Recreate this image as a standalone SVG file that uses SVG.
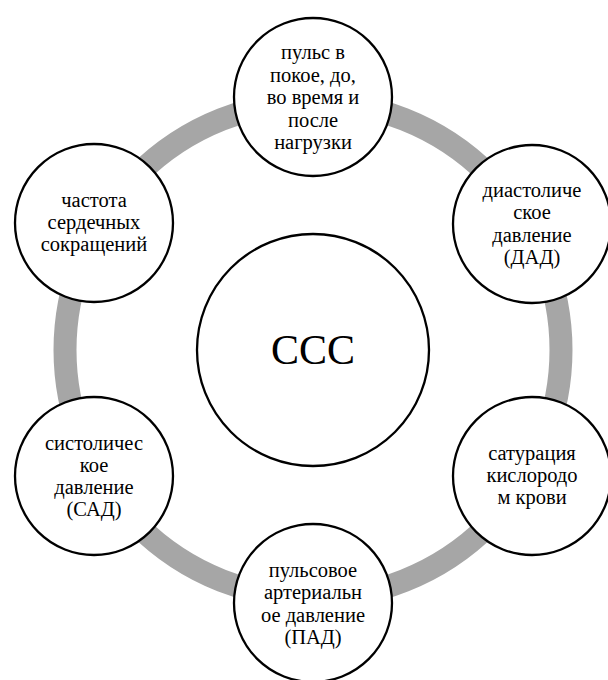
<svg xmlns="http://www.w3.org/2000/svg" width="608" height="680" viewBox="0 0 608 680">
<style>
.node{fill:#fff;stroke:#000;stroke-width:2.3}
.t{font-size:20.5px;fill:#000;text-anchor:middle}
.big{font-size:42px;fill:#000;text-anchor:middle}
</style>
<rect width="608" height="680" fill="#fff"/>
<g id="connectors">
<circle cx="313" cy="350" r="248" fill="none" stroke="#a6a6a6" stroke-width="23"/>
</g>
<g font-family="Liberation Serif, DejaVu Serif, serif">
<g id="center">
<circle class="node" cx="313" cy="350" r="116"/>
<text class="big" x="313" y="364">ССС</text>
</g>
<g id="n-top">
<circle class="node" cx="313" cy="97" r="79"/>
<text class="t" x="313" y="59">пульс в</text>
<text class="t" x="313" y="82">покое, до,</text>
<text class="t" x="313" y="104">во время и</text>
<text class="t" x="313" y="127">после</text>
<text class="t" x="313" y="149">нагрузки</text>
</g>
<g id="n-upper-right">
<circle class="node" cx="532" cy="224" r="79"/>
<text class="t" x="532" y="197">диастоличе</text>
<text class="t" x="532" y="219">ское</text>
<text class="t" x="532" y="242">давление</text>
<text class="t" x="532" y="264">(ДАД)</text>
</g>
<g id="n-lower-right">
<circle class="node" cx="532" cy="476" r="79"/>
<text class="t" x="532" y="460">сатурация</text>
<text class="t" x="532" y="482">кислородо</text>
<text class="t" x="532" y="504">м крови</text>
</g>
<g id="n-bottom">
<circle class="node" cx="313" cy="603" r="79"/>
<text class="t" x="313" y="577">пульсовое</text>
<text class="t" x="313" y="599">артериальн</text>
<text class="t" x="313" y="622">ое давление</text>
<text class="t" x="313" y="644">(ПАД)</text>
</g>
<g id="n-lower-left">
<circle class="node" cx="94" cy="476" r="79"/>
<text class="t" x="94" y="450">систоличес</text>
<text class="t" x="94" y="472">кое</text>
<text class="t" x="94" y="494">давление</text>
<text class="t" x="94" y="516">(САД)</text>
</g>
<g id="n-upper-left">
<circle class="node" cx="94" cy="223" r="79"/>
<text class="t" x="94" y="207">частота</text>
<text class="t" x="94" y="229">сердечных</text>
<text class="t" x="94" y="251">сокращений</text>
</g>
</g>
</svg>
